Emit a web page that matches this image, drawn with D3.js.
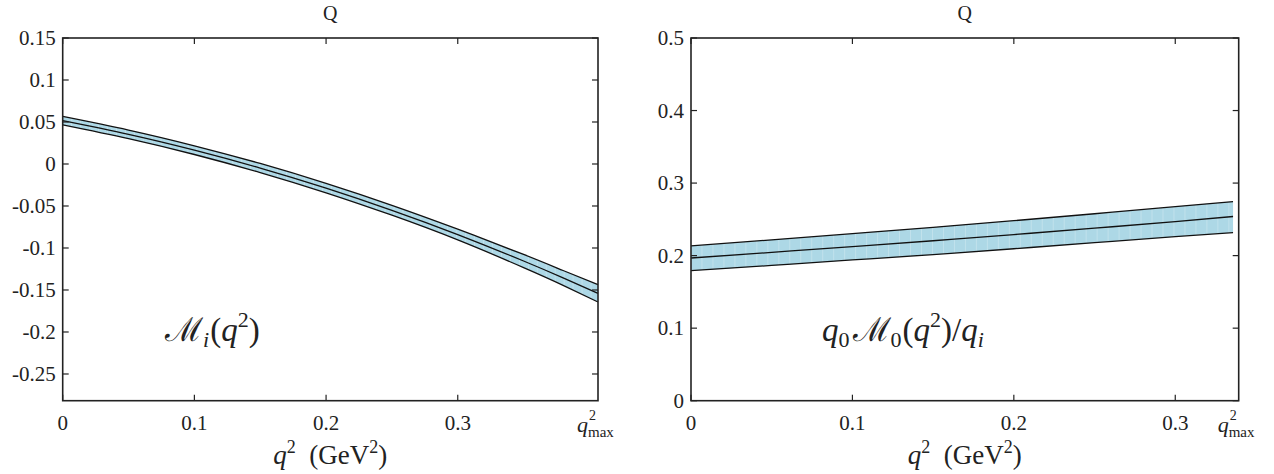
<!DOCTYPE html>
<html>
<head>
<meta charset="utf-8">
<script src="https://cdn.jsdelivr.net/npm/d3@7/dist/d3.min.js"></script>
<style>
  html, body { margin: 0; padding: 0; background: #fff; }
  svg { display: block; }
</style>
</head>
<body>
<svg id="chart" width="1274" height="474"></svg>
<script>
// ---- form factor M_i(q^2): central value and error band ----
const qLeft      = [0, 0.05, 0.1, 0.15, 0.2, 0.25, 0.3, 0.35, 0.38, 0.4065];
const miCentral  = [0.0516, 0.0353, 0.0165, -0.0048, -0.0287, -0.0551, -0.0840, -0.1155, -0.1356, -0.1540];
const miUpper    = [0.0566, 0.0404, 0.0217, 0.0006, -0.0231, -0.0492, -0.0776, -0.1077, -0.1268, -0.1437];
const miLower    = [0.0466, 0.0302, 0.0113, -0.0102, -0.0343, -0.0610, -0.0904, -0.1233, -0.1444, -0.1643];

// ---- q0 M_0(q^2) / q_i: central value and error band ----
const qRight     = [0, 0.05, 0.1, 0.15, 0.2, 0.25, 0.3, 0.3358];
const m0Central  = [0.1967, 0.2045, 0.2125, 0.2205, 0.2290, 0.2378, 0.2470, 0.2539];
const m0Upper    = [0.2133, 0.2218, 0.2303, 0.2390, 0.2482, 0.2577, 0.2675, 0.2745];
const m0Lower    = [0.1792, 0.1865, 0.1940, 0.2015, 0.2095, 0.2178, 0.2262, 0.2318];

// ---- axes ----
const qmaxLeft  = 0.4065;
const qmaxRight = 0.3393;
const xTicks = [0, 0.1, 0.2, 0.3];
const xTickLabels = ["0", "0.1", "0.2", "0.3"];
const yTicksLeft = [0.15, 0.1, 0.05, 0, -0.05, -0.1, -0.15, -0.2, -0.25];
const yTickLabelsLeft = ["0.15", "0.1", "0.05", "0", "-0.05", "-0.1", "-0.15", "-0.2", "-0.25"];
const yTicksRight = [0, 0.1, 0.2, 0.3, 0.4, 0.5];
const yTickLabelsRight = ["0", "0.1", "0.2", "0.3", "0.4", "0.5"];
const panelTitle = "Q";

const svg = d3.select("#chart");
const ink = "#222";
const bandColor = "#add8e6";
const serif = '"Liberation Serif"';

// every text element gets the serif face set on itself
function txt(parent, x, y, size) {
  return parent.append("text").attr("x", x).attr("y", y)
    .attr("font-size", size).attr("fill", ink)
    .style("font-family", serif);
}

function drawPanel(opt) {
  const { x0, x1, y0, y1, xDomain, yDomain, q, mid, up, lo, yTicks, yLabels, id } = opt;
  const x = d3.scaleLinear().domain(xDomain).range([x0, x1]);
  const y = d3.scaleLinear().domain(yDomain).range([y1, y0]);
  const g = svg.append("g");

  const pts = q.map((v, i) => ({ q: v, m: mid[i], u: up[i], l: lo[i] }));
  const curve = d3.curveNatural;

  const area = d3.area().x(d => x(d.q)).y0(d => y(d.l)).y1(d => y(d.u)).curve(curve);
  g.append("clipPath").attr("id", "band-" + id)
    .append("path").attr("d", area(pts));
  g.append("path").attr("d", area(pts)).attr("fill", bandColor);

  // faint segment seams inside the band
  const seams = d3.range(xDomain[0], q[q.length - 1], 0.0068);
  g.append("g").attr("clip-path", `url(#band-${id})`)
    .selectAll("line").data(seams).join("line")
    .attr("x1", d => x(d)).attr("x2", d => x(d))
    .attr("y1", y0).attr("y2", y1)
    .attr("stroke", "#fff").attr("stroke-opacity", 0.25).attr("stroke-width", 1);

  const line = key => d3.line().x(d => x(d.q)).y(d => y(d[key])).curve(curve);
  ["u", "m", "l"].forEach(k => {
    g.append("path").attr("d", line(k)(pts))
      .attr("fill", "none").attr("stroke", "#111").attr("stroke-width", 1.3);
  });

  // frame
  g.append("rect").attr("x", x0).attr("y", y0)
    .attr("width", x1 - x0).attr("height", y1 - y0)
    .attr("fill", "none").attr("stroke", ink).attr("stroke-width", 1.6);

  const tl = 6;
  // y ticks, mirrored on both sides, pointing inward
  yTicks.forEach((v, i) => {
    const yy = y(v);
    g.append("line").attr("x1", x0).attr("x2", x0 + tl).attr("y1", yy).attr("y2", yy)
      .attr("stroke", ink).attr("stroke-width", 1.2);
    g.append("line").attr("x1", x1).attr("x2", x1 - tl).attr("y1", yy).attr("y2", yy)
      .attr("stroke", ink).attr("stroke-width", 1.2);
    txt(g, x0 - 7, yy, 21).attr("dy", "0.34em").attr("text-anchor", "end").text(yLabels[i]);
  });
  // x ticks
  xTicks.forEach((v, i) => {
    const xx = x(v);
    g.append("line").attr("x1", xx).attr("x2", xx).attr("y1", y1).attr("y2", y1 - tl)
      .attr("stroke", ink).attr("stroke-width", 1.2);
    g.append("line").attr("x1", xx).attr("x2", xx).attr("y1", y0).attr("y2", y0 + tl)
      .attr("stroke", ink).attr("stroke-width", 1.2);
    txt(g, xx, y1 + 29, 21).attr("text-anchor", "middle").text(xTickLabels[i]);
  });
  // q^2_max label at the right end of the axis
  const xm = x(xDomain[1]);
  txt(g, xm - 21, y1 + 31, 22).attr("font-style", "italic").text("q");
  txt(g, xm - 9, y1 + 19, 14).text("2");
  txt(g, xm - 10, y1 + 36, 15).text("max");

  // axis title
  const xt = txt(g, (x0 + x1) / 2, y1 + 63, 27).attr("text-anchor", "middle");
  xt.append("tspan").attr("font-style", "italic").text("q");
  xt.append("tspan").attr("font-size", 18).attr("dy", -11).text("2");
  xt.append("tspan").attr("dy", 11).text("\u2002(GeV");
  xt.append("tspan").attr("font-size", 18).attr("dy", -11).text("2");
  xt.append("tspan").attr("dy", 11).text(")");

  // panel title
  txt(g, (x0 + x1) / 2, 20, 20).attr("text-anchor", "middle").text(panelTitle);

  return { x, y, g };
}

const left = drawPanel({
  id: "l", x0: 62.7, x1: 598, y0: 38, y1: 400.7,
  xDomain: [0, qmaxLeft], yDomain: [-0.2818, 0.15],
  q: qLeft, mid: miCentral, up: miUpper, lo: miLower,
  yTicks: yTicksLeft, yLabels: yTickLabelsLeft
});
const right = drawPanel({
  id: "r", x0: 691, x1: 1238.7, y0: 38, y1: 400.7,
  xDomain: [0, qmaxRight], yDomain: [0, 0.5],
  q: qRight, mid: m0Central, up: m0Upper, lo: m0Lower,
  yTicks: yTicksRight, yLabels: yTickLabelsRight
});

// in-plot function labels
const l1 = txt(left.g, 165, 341, 33);
l1.append("tspan").text("\u2133");
l1.append("tspan").attr("font-size", 22).attr("font-style", "italic").attr("dy", 6).text("i");
l1.append("tspan").attr("dy", -6).attr("dx", 1).text("(");
l1.append("tspan").attr("font-style", "italic").text("q");
l1.append("tspan").attr("font-size", 22).attr("dy", -14).text("2");
l1.append("tspan").attr("dy", 14).text(")");

const l2 = txt(right.g, 822, 341, 33);
l2.append("tspan").attr("font-style", "italic").text("q");
l2.append("tspan").attr("font-size", 22).attr("dy", 6).text("0");
l2.append("tspan").attr("dy", -6).attr("dx", 3).text("\u2133");
l2.append("tspan").attr("font-size", 22).attr("dy", 6).text("0");
l2.append("tspan").attr("dy", -6).attr("dx", 1).text("(");
l2.append("tspan").attr("font-style", "italic").text("q");
l2.append("tspan").attr("font-size", 22).attr("dy", -14).text("2");
l2.append("tspan").attr("dy", 14).text(")/");
l2.append("tspan").attr("font-style", "italic").text("q");
l2.append("tspan").attr("font-size", 22).attr("font-style", "italic").attr("dy", 6).text("i");
</script>
</body>
</html>
